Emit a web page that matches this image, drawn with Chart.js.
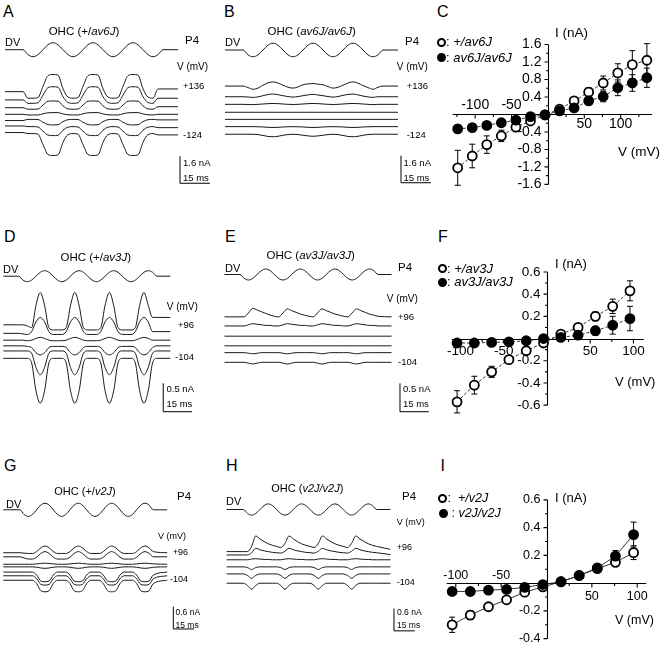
<!DOCTYPE html>
<html>
<head>
<meta charset="utf-8">
<title>OHC transducer currents</title>
<script src="https://cdn.jsdelivr.net/npm/chart.js@4.4.1/dist/chart.umd.min.js"></script>
<style>
  html, body { margin: 0; background: #fff; }
  #fig { position: relative; width: 661px; height: 653px; overflow: hidden; font-family: Arial, "Liberation Sans", Helvetica, sans-serif; color: #000; }
  #fig canvas { position: absolute; }
  .t { position: absolute; line-height: 1; white-space: nowrap; }
  .dot { position: absolute; width: 9px; height: 9px; border-radius: 50%; box-sizing: border-box; border: 2px solid #000; }
</style>
</head>
<body>
<div id="fig"></div>
<script>
// ==================== DATA ====================

// stimulus time grids (ms) and DV command (normalised deflection)
const timeAB = [0, 9, 11.5, 14, 16.5, 19, 21.5, 24, 26.5, 29, 31.5, 34, 36.5, 39, 41.5, 44, 46.5, 49, 51.5, 54, 56.5, 59, 61.5, 64, 66.5, 69, 71.5, 74, 76.5, 79, 86.5];
const dvAB = [0, 0, -0.71, -1, -0.71, 0, 0.71, 1, 0.71, 0, -0.71, -1, -0.71, 0, 0.71, 1, 0.71, 0, -0.71, -1, -0.71, 0, 0.71, 1, 0.71, 0, -0.71, -1, -0.71, 0, 0];
const timeDE = [0, 8, 10.25, 12.5, 14.75, 17, 19.25, 21.5, 23.75, 26, 28.25, 30.5, 32.75, 35, 37.25, 39.5, 41.75, 44, 46.25, 48.5, 50.75, 53, 55.25, 57.5, 59.75, 62, 64.25, 66.5, 68.75, 71, 73.25, 75.5, 77.75, 80, 87];
const timeGH = [0, 12, 15, 18, 21, 24, 27, 30, 33, 36, 39, 42, 45, 48, 51, 54, 57, 60, 63, 66, 69, 72, 75, 78, 81, 84, 87, 90, 93, 96, 99, 102, 105, 108, 118];
const dv4 = [0, 0, -0.71, -1, -0.71, 0, 0.71, 1, 0.71, 0, -0.71, -1, -0.71, 0, 0.71, 1, 0.71, 0, -0.71, -1, -0.71, 0, 0.71, 1, 0.71, 0, -0.71, -1, -0.71, 0, 0.71, 1, 0.71, 0, 0];

// A: OHC +/av6J, currents (nA), top trace +136 mV ... bottom -124 mV
const a1 = [1.34, 1.34, 0.95, 0.95, 0.99, 1.66, 2.29, 2.36, 2.32, 1.51, 1.02, 0.95, 0.99, 1.66, 2.29, 2.36, 2.32, 1.51, 1.02, 0.95, 0.99, 1.66, 2.29, 2.36, 2.32, 1.51, 1.02, 0.95, 1.5, 1.5, 1.5];
const a2 = [0.85, 0.85, 0.65, 0.65, 0.68, 1.14, 1.58, 1.63, 1.6, 1.04, 0.7, 0.65, 0.68, 1.14, 1.58, 1.63, 1.6, 1.04, 0.7, 0.65, 0.68, 1.14, 1.58, 1.63, 1.6, 1.04, 0.7, 0.65, 0.95, 0.95, 0.95];
const a3 = [0.39, 0.39, 0.3, 0.3, 0.31, 0.55, 0.77, 0.79, 0.78, 0.5, 0.32, 0.3, 0.31, 0.55, 0.77, 0.79, 0.78, 0.5, 0.32, 0.3, 0.31, 0.55, 0.77, 0.79, 0.78, 0.5, 0.32, 0.3, 0.45, 0.45, 0.45];
const a4 = [0, 0, -0.04, -0.04, -0.04, 0.03, 0.09, 0.1, 0.1, 0.02, -0.03, -0.04, -0.04, 0.03, 0.09, 0.1, 0.1, 0.02, -0.03, -0.04, -0.04, 0.03, 0.09, 0.1, 0.1, 0.02, -0.03, -0.04, 0, 0, 0];
const a5 = [-0.37, -0.37, -0.3, -0.3, -0.31, -0.47, -0.61, -0.63, -0.62, -0.43, -0.32, -0.3, -0.31, -0.47, -0.61, -0.63, -0.62, -0.43, -0.32, -0.3, -0.31, -0.47, -0.61, -0.63, -0.62, -0.43, -0.32, -0.3, -0.33, -0.33, -0.33];
const a6 = [-0.69, -0.69, -0.73, -0.73, -0.75, -1.0, -1.23, -1.26, -1.24, -0.94, -0.76, -0.73, -0.75, -1.0, -1.23, -1.26, -1.24, -0.94, -0.76, -0.73, -0.75, -1.0, -1.23, -1.26, -1.24, -0.94, -0.76, -0.73, -0.79, -0.79, -0.79];
const a7 = [-1.08, -1.08, -1.14, -1.14, -1.18, -1.79, -2.38, -2.44, -2.4, -1.66, -1.2, -1.14, -1.18, -1.79, -2.38, -2.44, -2.4, -1.66, -1.2, -1.14, -1.18, -1.79, -2.38, -2.44, -2.4, -1.66, -1.2, -1.14, -1.22, -1.22, -1.22];

// B: OHC av6J/av6J
const b1 = [1.67, 1.67, 1.58, 1.48, 1.55, 1.72, 1.86, 1.92, 1.85, 1.72, 1.6, 1.55, 1.62, 1.75, 1.8, 1.82, 1.78, 1.75, 1.64, 1.55, 1.6, 1.72, 1.85, 1.92, 1.84, 1.7, 1.58, 1.48, 1.6, 1.67, 1.67];
const b2 = [1.04, 1.04, 1.02, 1.0, 1.03, 1.1, 1.17, 1.2, 1.16, 1.1, 1.05, 1.02, 1.05, 1.1, 1.15, 1.18, 1.14, 1.1, 1.05, 1.02, 1.05, 1.12, 1.18, 1.2, 1.15, 1.08, 1.03, 1.0, 1.04, 1.04, 1.04];
const b3 = [0.59, 0.59, 0.58, 0.57, 0.59, 0.61, 0.63, 0.64, 0.63, 0.61, 0.59, 0.58, 0.59, 0.61, 0.63, 0.64, 0.63, 0.61, 0.59, 0.58, 0.59, 0.61, 0.63, 0.64, 0.63, 0.61, 0.59, 0.57, 0.59, 0.59, 0.59];
const b4 = [0.12, 0.12, 0.12, 0.12, 0.12, 0.12, 0.12, 0.12, 0.12, 0.12, 0.12, 0.12, 0.12, 0.12, 0.12, 0.12, 0.12, 0.12, 0.12, 0.12, 0.12, 0.12, 0.12, 0.12, 0.12, 0.12, 0.12, 0.12, 0.12, 0.12, 0.12];
const b5 = [-0.3, -0.3, -0.3, -0.3, -0.3, -0.3, -0.3, -0.3, -0.3, -0.3, -0.3, -0.3, -0.3, -0.3, -0.3, -0.3, -0.3, -0.3, -0.3, -0.3, -0.3, -0.3, -0.3, -0.3, -0.3, -0.3, -0.3, -0.3, -0.3, -0.3, -0.3];
const b6 = [-0.73, -0.73, -0.73, -0.73, -0.74, -0.75, -0.77, -0.78, -0.77, -0.75, -0.74, -0.73, -0.74, -0.75, -0.77, -0.78, -0.77, -0.75, -0.74, -0.73, -0.74, -0.75, -0.77, -0.78, -0.77, -0.75, -0.74, -0.73, -0.73, -0.73, -0.73];
const b7 = [-1.18, -1.18, -1.18, -1.18, -1.2, -1.25, -1.31, -1.33, -1.3, -1.24, -1.2, -1.18, -1.2, -1.24, -1.28, -1.3, -1.28, -1.24, -1.2, -1.18, -1.2, -1.25, -1.31, -1.33, -1.3, -1.24, -1.2, -1.18, -1.18, -1.18, -1.18];

// D: OHC +/av3J, +96 ... -104 mV
const d1 = [0.32, 0.32, 0.32, 0.3, 0.27, 0.66, 0.89, 0.66, 0.27, 0.23, 0.23, 0.23, 0.27, 0.66, 0.89, 0.66, 0.27, 0.23, 0.23, 0.23, 0.27, 0.66, 0.89, 0.66, 0.27, 0.23, 0.23, 0.23, 0.27, 0.66, 0.89, 0.66, 0.45, 0.45, 0.45];
const d2 = [0.17, 0.17, 0.16, 0.15, 0.2, 0.37, 0.45, 0.37, 0.2, 0.15, 0.15, 0.15, 0.2, 0.37, 0.45, 0.37, 0.2, 0.15, 0.15, 0.15, 0.2, 0.37, 0.45, 0.37, 0.2, 0.15, 0.15, 0.15, 0.2, 0.37, 0.45, 0.37, 0.2, 0.2, 0.2];
const d3 = [0.05, 0.05, 0.05, 0.04, 0.05, 0.08, 0.1, 0.08, 0.05, 0.04, 0.04, 0.04, 0.05, 0.08, 0.1, 0.08, 0.05, 0.04, 0.04, 0.04, 0.05, 0.08, 0.1, 0.08, 0.05, 0.04, 0.04, 0.04, 0.05, 0.08, 0.1, 0.08, 0.05, 0.05, 0.05];
const d4 = [-0.05, -0.05, -0.05, -0.06, -0.08, -0.17, -0.21, -0.17, -0.08, -0.06, -0.06, -0.06, -0.08, -0.17, -0.21, -0.17, -0.08, -0.06, -0.06, -0.06, -0.08, -0.17, -0.21, -0.17, -0.08, -0.06, -0.06, -0.06, -0.08, -0.17, -0.21, -0.17, -0.08, -0.05, -0.05];
const d5 = [-0.14, -0.14, -0.14, -0.14, -0.18, -0.43, -0.56, -0.43, -0.18, -0.14, -0.14, -0.14, -0.18, -0.43, -0.56, -0.43, -0.18, -0.14, -0.14, -0.14, -0.18, -0.43, -0.56, -0.43, -0.18, -0.14, -0.14, -0.14, -0.18, -0.43, -0.56, -0.43, -0.18, -0.14, -0.14];
const d6 = [-0.27, -0.27, -0.27, -0.27, -0.35, -0.84, -1.06, -0.84, -0.35, -0.27, -0.27, -0.27, -0.35, -0.84, -1.06, -0.84, -0.35, -0.27, -0.27, -0.27, -0.35, -0.84, -1.06, -0.84, -0.35, -0.27, -0.27, -0.27, -0.35, -0.84, -1.06, -0.84, -0.35, -0.27, -0.27];

// E: OHC av3J/av3J
const e1 = [0.46, 0.46, 0.46, 0.53, 0.61, 0.58, 0.55, 0.52, 0.49, 0.47, 0.46, 0.53, 0.6, 0.57, 0.54, 0.51, 0.49, 0.47, 0.46, 0.53, 0.6, 0.57, 0.54, 0.51, 0.49, 0.47, 0.46, 0.53, 0.6, 0.57, 0.54, 0.51, 0.49, 0.47, 0.46];
const e2 = [0.3, 0.3, 0.3, 0.32, 0.34, 0.33, 0.32, 0.31, 0.31, 0.3, 0.3, 0.32, 0.34, 0.33, 0.32, 0.31, 0.31, 0.3, 0.3, 0.32, 0.34, 0.33, 0.32, 0.31, 0.31, 0.3, 0.3, 0.32, 0.34, 0.33, 0.32, 0.31, 0.31, 0.3, 0.3];
const e3 = [0.12, 0.12, 0.12, 0.12, 0.12, 0.12, 0.12, 0.12, 0.12, 0.12, 0.12, 0.12, 0.12, 0.12, 0.12, 0.12, 0.12, 0.12, 0.12, 0.12, 0.12, 0.12, 0.12, 0.12, 0.12, 0.12, 0.12, 0.12, 0.12, 0.12, 0.12, 0.12, 0.12, 0.12, 0.12];
const e4 = [-0.05, -0.05, -0.05, -0.05, -0.05, -0.05, -0.05, -0.05, -0.05, -0.05, -0.05, -0.05, -0.05, -0.05, -0.05, -0.05, -0.05, -0.05, -0.05, -0.05, -0.05, -0.05, -0.05, -0.05, -0.05, -0.05, -0.05, -0.05, -0.05, -0.05, -0.05, -0.05, -0.05, -0.05, -0.05];
const e5 = [-0.17, -0.17, -0.17, -0.18, -0.19, -0.18, -0.17, -0.17, -0.17, -0.17, -0.17, -0.18, -0.19, -0.18, -0.17, -0.17, -0.17, -0.17, -0.17, -0.18, -0.19, -0.18, -0.17, -0.17, -0.17, -0.17, -0.17, -0.18, -0.19, -0.18, -0.17, -0.17, -0.17, -0.17, -0.17];
const e6 = [-0.34, -0.34, -0.34, -0.355, -0.37, -0.355, -0.34, -0.34, -0.34, -0.34, -0.34, -0.355, -0.37, -0.355, -0.34, -0.34, -0.34, -0.34, -0.34, -0.355, -0.37, -0.355, -0.34, -0.34, -0.34, -0.34, -0.34, -0.355, -0.37, -0.355, -0.34, -0.34, -0.34, -0.34, -0.34];

// G: OHC +/v2J
const g1 = [0.33, 0.33, 0.32, 0.31, 0.31, 0.36, 0.46, 0.51, 0.46, 0.36, 0.31, 0.31, 0.31, 0.36, 0.46, 0.51, 0.46, 0.36, 0.31, 0.31, 0.31, 0.36, 0.46, 0.51, 0.46, 0.36, 0.31, 0.31, 0.31, 0.36, 0.46, 0.51, 0.46, 0.36, 0.33];
const g2 = [0.22, 0.22, 0.19, 0.16, 0.16, 0.21, 0.31, 0.36, 0.31, 0.21, 0.16, 0.16, 0.16, 0.21, 0.31, 0.36, 0.31, 0.21, 0.16, 0.16, 0.16, 0.21, 0.31, 0.36, 0.31, 0.21, 0.16, 0.16, 0.16, 0.21, 0.31, 0.36, 0.31, 0.22, 0.22];
const g3 = [0.02, 0.02, 0.02, 0.02, 0.02, 0.03, 0.04, 0.05, 0.04, 0.03, 0.02, 0.02, 0.02, 0.03, 0.04, 0.05, 0.04, 0.03, 0.02, 0.02, 0.02, 0.03, 0.04, 0.05, 0.04, 0.03, 0.02, 0.02, 0.02, 0.03, 0.04, 0.05, 0.04, 0.03, 0.02];
const g4 = [-0.05, -0.05, -0.05, -0.05, -0.05, -0.06, -0.08, -0.09, -0.08, -0.06, -0.05, -0.05, -0.05, -0.06, -0.08, -0.09, -0.08, -0.06, -0.05, -0.05, -0.05, -0.06, -0.08, -0.09, -0.08, -0.06, -0.05, -0.05, -0.05, -0.06, -0.08, -0.09, -0.08, -0.06, -0.05];
const g5 = [-0.19, -0.19, -0.19, -0.19, -0.19, -0.27, -0.43, -0.45, -0.43, -0.27, -0.19, -0.19, -0.19, -0.27, -0.43, -0.45, -0.43, -0.27, -0.19, -0.19, -0.19, -0.27, -0.43, -0.45, -0.43, -0.27, -0.19, -0.19, -0.19, -0.27, -0.43, -0.45, -0.43, -0.27, -0.19];
const g6 = [-0.29, -0.29, -0.29, -0.29, -0.29, -0.37, -0.52, -0.54, -0.52, -0.37, -0.29, -0.29, -0.29, -0.37, -0.52, -0.54, -0.52, -0.37, -0.29, -0.29, -0.29, -0.37, -0.52, -0.54, -0.52, -0.37, -0.29, -0.29, -0.29, -0.37, -0.52, -0.54, -0.52, -0.37, -0.29];
const g7 = [-0.41, -0.41, -0.41, -0.41, -0.41, -0.5, -0.69, -0.72, -0.69, -0.5, -0.41, -0.41, -0.41, -0.5, -0.69, -0.72, -0.69, -0.5, -0.41, -0.41, -0.41, -0.5, -0.69, -0.72, -0.69, -0.5, -0.41, -0.41, -0.41, -0.5, -0.69, -0.72, -0.69, -0.5, -0.41];

// H: OHC v2J/v2J
const h1 = [0.36, 0.36, 0.36, 0.5, 0.78, 0.7, 0.63, 0.57, 0.53, 0.5, 0.47, 0.58, 0.78, 0.7, 0.63, 0.57, 0.53, 0.5, 0.47, 0.58, 0.78, 0.7, 0.63, 0.57, 0.53, 0.5, 0.47, 0.58, 0.78, 0.7, 0.63, 0.57, 0.53, 0.5, 0.42];
const h2 = [0.27, 0.27, 0.27, 0.33, 0.45, 0.41, 0.38, 0.36, 0.34, 0.33, 0.32, 0.37, 0.45, 0.41, 0.38, 0.36, 0.34, 0.33, 0.32, 0.37, 0.45, 0.41, 0.38, 0.36, 0.34, 0.33, 0.32, 0.37, 0.45, 0.41, 0.38, 0.36, 0.34, 0.33, 0.28];
const h3 = [0.14, 0.14, 0.14, 0.16, 0.17, 0.16, 0.15, 0.15, 0.14, 0.14, 0.14, 0.16, 0.17, 0.16, 0.15, 0.15, 0.14, 0.14, 0.14, 0.16, 0.17, 0.16, 0.15, 0.15, 0.14, 0.14, 0.14, 0.16, 0.17, 0.16, 0.15, 0.15, 0.14, 0.14, 0.14];
const h4 = [-0.05, -0.05, -0.07, -0.12, -0.07, -0.05, -0.05, -0.05, -0.05, -0.05, -0.07, -0.12, -0.07, -0.05, -0.05, -0.05, -0.05, -0.05, -0.07, -0.12, -0.07, -0.05, -0.05, -0.05, -0.05, -0.05, -0.07, -0.12, -0.07, -0.05, -0.05, -0.05, -0.05, -0.05, -0.05];
const h5 = [-0.24, -0.24, -0.28, -0.36, -0.28, -0.24, -0.24, -0.24, -0.24, -0.24, -0.28, -0.36, -0.28, -0.24, -0.24, -0.24, -0.24, -0.24, -0.28, -0.36, -0.28, -0.24, -0.24, -0.24, -0.24, -0.24, -0.28, -0.36, -0.28, -0.24, -0.24, -0.24, -0.24, -0.24, -0.24];
const h6 = [-0.49, -0.49, -0.55, -0.65, -0.55, -0.49, -0.49, -0.49, -0.49, -0.49, -0.55, -0.65, -0.55, -0.49, -0.49, -0.49, -0.49, -0.49, -0.55, -0.65, -0.55, -0.49, -0.49, -0.49, -0.49, -0.49, -0.55, -0.65, -0.55, -0.49, -0.49, -0.49, -0.49, -0.49, -0.49];

// I-V curves: holding potential (mV), peak current (nA), error (nA)
const vC = [-124, -104, -84, -64, -44, -24, -4, 16, 36, 56, 76, 96, 116, 136];
const iOpenC = [-1.22, -0.95, -0.69, -0.49, -0.29, -0.15, -0.01, 0.12, 0.31, 0.51, 0.72, 0.95, 1.14, 1.24];
const errOpenC = [0.4, 0.27, 0.2, 0.13, 0.08, 0.05, 0.02, 0.03, 0.05, 0.1, 0.16, 0.21, 0.32, 0.38];
const iFilledC = [-0.33, -0.3, -0.25, -0.19, -0.13, -0.05, -0.01, 0.08, 0.15, 0.31, 0.41, 0.61, 0.72, 0.84];
const errFilledC = [0.08, 0.07, 0.06, 0.05, 0.04, 0.03, 0.02, 0.03, 0.04, 0.08, 0.12, 0.18, 0.19, 0.22];

const vF = [-104, -84, -64, -44, -24, -4, 16, 36, 56, 76, 96];
const iOpenF = [-0.57, -0.42, -0.3, -0.19, -0.11, -0.04, 0.04, 0.1, 0.2, 0.29, 0.43];
const errOpenF = [0.1, 0.08, 0.05, 0.03, 0.02, 0.02, 0.02, 0.02, 0.04, 0.065, 0.09];
const iFilledF = [-0.04, -0.04, -0.035, -0.03, -0.02, 0.0, 0.01, 0.03, 0.07, 0.12, 0.18];
const errFilledF = [0.01, 0.01, 0.01, 0.01, 0.01, 0.01, 0.01, 0.02, 0.04, 0.08, 0.11];

const vI = [-104, -84, -64, -44, -24, -4, 16, 36, 56, 76, 96];
const iOpenI = [-0.3, -0.23, -0.17, -0.12, -0.065, -0.027, 0.01, 0.055, 0.105, 0.15, 0.22];
const errOpenI = [0.055, 0.03, 0.02, 0.015, 0.01, 0.01, 0.01, 0.01, 0.02, 0.025, 0.05];
const iFilledI = [-0.06, -0.06, -0.05, -0.045, -0.03, -0.01, 0.01, 0.055, 0.11, 0.195, 0.35];
const errFilledI = [0.01, 0.01, 0.01, 0.01, 0.01, 0.01, 0.01, 0.01, 0.02, 0.04, 0.09];

// axis ticks
const xTicksIV = [-100, -50, 50, 100];
const xMinorC = [-125, -75, -25, 25, 75, 125];
const xMinorFI = [-75, -25, 25, 75];
const yTicksC = [-1.6, -1.2, -0.8, -0.4, 0.4, 0.8, 1.2, 1.6];
const yMinorC = [-1.4, -1.0, -0.6, -0.2, 0.2, 0.6, 1.0, 1.4];
const yTicksF = [-0.6, -0.4, -0.2, 0.2, 0.4, 0.6];
const yMinorF = [-0.5, -0.3, -0.1, 0.1, 0.3, 0.5];
const yTicksI = [-0.4, -0.2, 0.2, 0.4, 0.6];
const yMinorI = [-0.3, -0.1, 0.1, 0.3, 0.5];

// scale bars
const barMs = 15;
const barNA = { AB: 1.6, DE: 0.5, GH: 0.6 };

// ==================== DRAWING ====================

const fig = document.getElementById('fig');
const FONT = 'Arial, "Liberation Sans", Helvetica, sans-serif';

function addCanvas(box) {
  const [l, t, w, h] = box;
  const c = document.createElement('canvas');
  c.width = w; c.height = h;
  c.style.cssText = `left:${l}px;top:${t}px;width:${w}px;height:${h}px`;
  fig.appendChild(c);
  return c;
}

function txt(html, x, y, size, center) {
  const d = document.createElement('div');
  d.className = 't';
  d.innerHTML = html;
  d.style.fontSize = size + 'px';
  d.style.left = x + 'px';
  d.style.top = (y - size * 0.52) + 'px';
  if (center) d.style.transform = 'translateX(-50%)';
  fig.appendChild(d);
}

function legendRow(x, y, filled, html, size) {
  const m = document.createElement('div');
  m.className = 'dot';
  m.style.left = (x - 4.5) + 'px';
  m.style.top = (y - 4.5) + 'px';
  m.style.background = filled ? '#000' : '#fff';
  fig.appendChild(m);
  txt(html, x + 5, y, size);
}

function scaleBar(b) {
  return {
    id: 'scaleBar',
    afterDatasetsDraw(chart) {
      const { ctx, scales: { x, y } } = chart;
      const x0 = x.getPixelForValue(b.t), x1 = x.getPixelForValue(b.t + barMs);
      const y0 = y.getPixelForValue(b.i), y1 = y.getPixelForValue(b.i + b.nA);
      ctx.save();
      ctx.strokeStyle = '#000'; ctx.lineWidth = 1;
      ctx.beginPath(); ctx.moveTo(x0, y1); ctx.lineTo(x0, y0); ctx.lineTo(x1, y0); ctx.stroke();
      ctx.restore();
    }
  };
}

function tracePanel(p) {
  const cv = addCanvas(p.box);
  const [l, t, w, h] = p.box;
  const line = (vals, axis) => ({
    data: p.time.map((tm, k) => ({ x: tm, y: vals[k] })),
    yAxisID: axis, borderColor: '#1a1a1a', borderWidth: 1, pointRadius: 0,
    cubicInterpolationMode: 'monotone', fill: false
  });
  const datasets = [line(p.dv, 'dv'), ...p.traces.map(tr => line(tr, 'y'))];
  new Chart(cv, {
    type: 'line',
    data: { datasets },
    options: {
      responsive: false, animation: false, events: [], layout: { padding: 0 },
      plugins: { legend: { display: false }, tooltip: { enabled: false }, colors: { enabled: false } },
      scales: {
        x: { type: 'linear', display: false, min: (l - p.x0) / p.pxPerMs, max: (l + w - p.x0) / p.pxPerMs },
        y: { type: 'linear', display: false, min: (p.y0 - t - h) / p.pxPerNA, max: (p.y0 - t) / p.pxPerNA },
        dv: { type: 'linear', display: false, min: (p.dvY - t - h) / p.dvPx, max: (p.dvY - t) / p.dvPx }
      }
    },
    plugins: [scaleBar(p.bar)]
  });
}

function ivAxes(p) {
  return {
    id: 'ivAxes',
    beforeDatasetsDraw(chart) {
      const { ctx, scales: { x, y } } = chart;
      const X = v => x.getPixelForValue(v), Y = v => y.getPixelForValue(v);
      const ax = Math.round(X(0)) + 0.5, ay = Math.round(Y(0)) + 0.5;
      ctx.save();
      ctx.strokeStyle = '#000'; ctx.lineWidth = 1.1;
      ctx.beginPath();
      ctx.moveTo(X(p.xExtent[0]), ay); ctx.lineTo(X(p.xExtent[1]), ay);
      ctx.moveTo(ax, Y(p.yExtent[0])); ctx.lineTo(ax, Y(p.yExtent[1]));
      xTicksIV.forEach(v => { ctx.moveTo(X(v), ay); ctx.lineTo(X(v), ay + 4); });
      p.xMinor.forEach(v => { ctx.moveTo(X(v), ay); ctx.lineTo(X(v), ay + 2.5); });
      p.yTicks.forEach(v => { ctx.moveTo(ax, Y(v)); ctx.lineTo(ax - 4, Y(v)); });
      p.yMinor.forEach(v => { ctx.moveTo(ax, Y(v)); ctx.lineTo(ax - 2.5, Y(v)); });
      ctx.stroke();

      // error bars, under the markers
      ctx.lineWidth = 1;
      ctx.beginPath();
      p.series.forEach(s => s.v.forEach((v, k) => {
        const px = X(v), top = Y(s.i[k] + s.err[k]), bot = Y(s.i[k] - s.err[k]);
        ctx.moveTo(px, top); ctx.lineTo(px, bot);
        ctx.moveTo(px - 3, top); ctx.lineTo(px + 3, top);
        ctx.moveTo(px - 3, bot); ctx.lineTo(px + 3, bot);
      }));
      ctx.stroke();

      ctx.fillStyle = '#000';
      ctx.font = `${p.font}px ${FONT}`;
      ctx.textAlign = 'right'; ctx.textBaseline = 'middle';
      p.yTicks.forEach(v => ctx.fillText(v.toFixed(1), ax - 7, Y(v)));
      ctx.textAlign = 'center';
      xTicksIV.forEach(v => {
        const up = v < 0 && p.negAbove;
        ctx.fillText(String(v), X(v), ay + (up ? p.xLabelUp : p.xLabelDown));
      });
      ctx.restore();
    }
  };
}

function ivPanel(p) {
  const cv = addCanvas(p.box);
  const [l, t, w, h] = p.box;
  const [ox, oy] = p.origin;
  const datasets = p.series.map(s => ({
    data: s.v.map((v, k) => ({ x: v, y: s.i[k] })),
    showLine: true, borderColor: '#222', borderWidth: 0.9, borderDash: p.dash,
    pointRadius: 4.5, pointBorderWidth: 1.8, pointBorderColor: '#000',
    pointBackgroundColor: s.filled ? '#000' : '#fff', order: s.filled ? 0 : 1
  }));
  new Chart(cv, {
    type: 'scatter',
    data: { datasets },
    options: {
      responsive: false, animation: false, events: [], layout: { padding: 0 },
      plugins: { legend: { display: false }, tooltip: { enabled: false }, colors: { enabled: false } },
      scales: {
        x: { type: 'linear', display: false, min: (l - ox) / p.pxPerMV, max: (l + w - ox) / p.pxPerMV },
        y: { type: 'linear', display: false, min: (oy - t - h) / p.pxPerNA, max: (oy - t) / p.pxPerNA }
      }
    },
    plugins: [ivAxes(p)]
  });
}

// ---- current trace panels ----
tracePanel({ box: [2, 36, 216, 158], x0: 5, pxPerMs: 2, y0: 114.3, pxPerNA: 16.9, dvY: 49.7, dvPx: 7,
  time: timeAB, dv: dvAB, traces: [a1, a2, a3, a4, a5, a6, a7], bar: { t: 87.5, i: -4.08, nA: barNA.AB } });
tracePanel({ box: [222, 36, 216, 158], x0: 225, pxPerMs: 2, y0: 114.3, pxPerNA: 16.9, dvY: 50, dvPx: 6.8,
  time: timeAB, dv: dvAB, traces: [b1, b2, b3, b4, b5, b6, b7], bar: { t: 88, i: -4.05, nA: barNA.AB } });
tracePanel({ box: [1, 262, 216, 156], x0: 3.3, pxPerMs: 1.92, y0: 343, pxPerNA: 56.8, dvY: 276.2, dvPx: 5.5,
  time: timeDE, dv: dv4, traces: [d1, d2, d3, d4, d5, d6], bar: { t: 83.3, i: -1.21, nA: barNA.DE } });
tracePanel({ box: [222, 262, 216, 156], x0: 224.5, pxPerMs: 1.92, y0: 343, pxPerNA: 56.8, dvY: 274.5, dvPx: 5.5,
  time: timeDE, dv: dv4, traces: [e1, e2, e3, e4, e5, e6], bar: { t: 91.4, i: -1.21, nA: barNA.DE } });
tracePanel({ box: [1, 495, 216, 145], x0: 3.3, pxPerMs: 1.389, y0: 565, pxPerNA: 37.2, dvY: 509.8, dvPx: 6.6,
  time: timeGH, dv: dv4, traces: [g1, g2, g3, g4, g5, g6, g7], bar: { t: 122.4, i: -1.72, nA: barNA.GH } });
tracePanel({ box: [222, 495, 216, 145], x0: 226.6, pxPerMs: 1.389, y0: 565, pxPerNA: 37.2, dvY: 509.5, dvPx: 5.6,
  time: timeGH, dv: dv4, traces: [h1, h2, h3, h4, h5, h6], bar: { t: 120.5, i: -1.77, nA: barNA.GH } });

// ---- I-V panels ----
ivPanel({ box: [432, 24, 229, 180], origin: [548, 114.5], pxPerMV: 0.77, pxPerNA: 47,
  xExtent: [-131, 143], yExtent: [-1.6, 1.6], xMinor: xMinorC, yTicks: yTicksC, yMinor: yMinorC,
  font: 14, negAbove: true, xLabelUp: -9.5, xLabelDown: 10, dash: [3, 2],
  series: [{ v: vC, i: iOpenC, err: errOpenC, filled: false }, { v: vC, i: iFilledC, err: errFilledC, filled: true }] });
ivPanel({ box: [432, 255, 229, 168], origin: [547, 338.5], pxPerMV: 0.915, pxPerNA: 120,
  xExtent: [-110, 112], yExtent: [-0.6, 0.6], xMinor: xMinorFI, yTicks: yTicksF, yMinor: yMinorF,
  font: 13.5, negAbove: false, xLabelUp: -9, xLabelDown: 12, dash: [3, 2],
  series: [{ v: vF, i: iOpenF, err: errOpenF, filled: false }, { v: vF, i: iFilledF, err: errFilledF, filled: true }] });
ivPanel({ box: [432, 485, 229, 168], origin: [546.5, 584.3], pxPerMV: 0.96, pxPerNA: 150,
  xExtent: [-110, 110], yExtent: [-0.4, 0.6], xMinor: xMinorFI, yTicks: yTicksI, yMinor: yMinorI,
  font: 12.5, negAbove: true, xLabelUp: -8, xLabelDown: 13.5, dash: [],
  series: [{ v: vI, i: iOpenI, err: errOpenI, filled: false }, { v: vI, i: iFilledI, err: errFilledI, filled: true }] });

// ---- text ----
[['A', 3, 12.5], ['B', 224, 12.5], ['C', 437, 12], ['D', 4, 237.5], ['E', 225, 237.5],
 ['F', 438, 237.5], ['G', 4, 466], ['H', 226, 466], ['I', 440.5, 466]].forEach(([s, x, y]) => txt(s, x, y, 16));

txt('OHC (+/<i>av6J</i>)', 84, 31.7, 11.5, true);
txt('OHC (<i>av6J/av6J</i>)', 311.7, 31.7, 11.5, true);
txt('OHC (+/<i>av3J</i>)', 95.8, 258.3, 11.5, true);
txt('OHC (<i>av3J/av3J</i>)', 310.7, 256, 11.5, true);
txt('OHC (+/<i>v2J</i>)', 85, 491.7, 11, true);
txt('OHC (<i>v2J/v2J</i>)', 307.3, 488.3, 11, true);

[[5, 42.5], [225, 42.7], [3, 269.3], [225, 268.3], [6, 505], [226, 501.7]].forEach(([x, y]) => txt('DV', x, y, 11));
[[185, 41], [405, 41.7], [398, 268.3], [177, 497.3], [402, 496.7]].forEach(([x, y]) => txt('P4', x, y, 11.5));

txt('V (mV)', 177, 67, 10); txt('+136', 183, 86, 9.5); txt('-124', 183, 135, 9.5);
txt('V (mV)', 396.7, 66.7, 10); txt('+136', 406.7, 86, 9.5); txt('-124', 406.7, 135, 9.5);
txt('V (mV)', 166.7, 307.3, 10); txt('+96', 178, 325, 9.5); txt('-104', 175, 357.3, 9.5);
txt('V (mV)', 386.7, 299.3, 10); txt('+96', 398, 316.7, 9.5); txt('-104', 398, 361.7, 9.5);
txt('V (mV)', 158, 536.7, 9); txt('+96', 172.7, 552.7, 9); txt('-104', 170, 579.3, 9);
txt('V (mV)', 396.7, 522.7, 9); txt('+96', 396.7, 547.3, 9); txt('-104', 396.7, 582.3, 9);

txt(`${barNA.AB} nA`, 183, 163, 9.5); txt(`${barMs} ms`, 183, 178, 9.5);
txt(`${barNA.AB} nA`, 403.5, 163, 9.5); txt(`${barMs} ms`, 403.5, 178, 9.5);
txt(`${barNA.DE} nA`, 166.5, 389.3, 9.5); txt(`${barMs} ms`, 166.5, 404, 9.5);
txt(`${barNA.DE} nA`, 403, 389, 9.5); txt(`${barMs} ms`, 403, 404, 9.5);
txt(`${barNA.GH} nA`, 175.5, 612.7, 8.5); txt(`${barMs} ms`, 175.5, 625, 8.5);
txt(`${barNA.GH} nA`, 397, 612, 8.5); txt(`${barMs} ms`, 397, 625.5, 8.5);

// I-V legends and axis titles
legendRow(441, 42, false, ': <i>+/av6J</i>', 13);
legendRow(441, 57.5, true, ': <i>av6J/av6J</i>', 13);
legendRow(442, 268.5, false, ': <i>+/av3J</i>', 13);
legendRow(442, 282, true, ': <i>av3J/av3J</i>', 13);
legendRow(442.5, 498.3, false, ':&nbsp; <i>+/v2J</i>', 12.5);
legendRow(443, 513.3, true, '&nbsp;: <i>v2J/v2J</i>', 12.5);

txt('I (nA)', 555, 33.5, 13.5); txt('V (mV)', 618, 151.7, 13.5);
txt('I (nA)', 555, 263.3, 13); txt('V (mV)', 615, 381.7, 13);
txt('I (nA)', 555, 497.3, 13); txt('V (mV)', 615, 620, 12.5);
</script>
</body>
</html>
